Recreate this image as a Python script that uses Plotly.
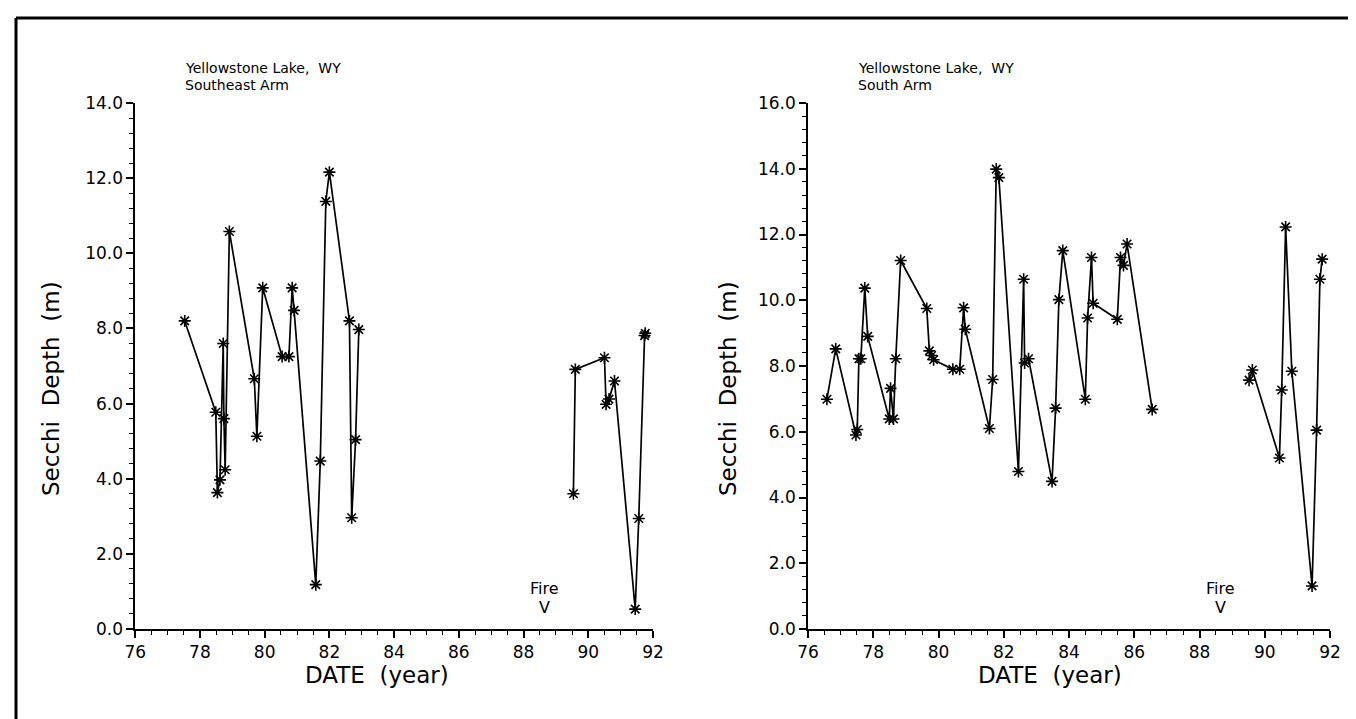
import plotly.graph_objects as go

W, H = 1356, 719

# ---- Data: Southeast Arm ----
se_year = [77.53, 78.49, 78.54, 78.62, 78.72, 78.74, 78.78, 78.91, 79.68, 79.76, 79.94,
           80.54, 80.75, 80.85, 80.91, 81.58, 81.72, 81.89, 82.00, 82.62, 82.69, 82.81, 82.91,
           None,
           89.54, 89.60, 90.50, 90.55, 90.64, 90.81, 91.45, 91.56, 91.74, 91.76]
se_depth = [8.20, 5.77, 3.63, 3.97, 7.60, 5.60, 4.24, 10.58, 6.66, 5.13, 9.08,
            7.25, 7.25, 9.08, 8.48, 1.18, 4.47, 11.38, 12.16, 8.20, 2.96, 5.04, 7.97,
            None,
            3.60, 6.91, 7.22, 5.98, 6.12, 6.60, 0.53, 2.94, 7.81, 7.87]

# ---- Data: South Arm ----
s_year = [76.58, 76.85, 77.47, 77.51, 77.56, 77.62, 77.74, 77.83, 78.49, 78.53, 78.62,
          78.69, 78.84, 79.64, 79.72, 79.79, 79.85, 80.44, 80.65, 80.77, 80.82, 81.56,
          81.66, 81.77, 81.85, 82.45, 82.61, 82.64, 82.76, 83.48, 83.59, 83.69, 83.81,
          84.50, 84.57, 84.69, 84.74, 85.48, 85.58, 85.67, 85.78, 86.55,
          None,
          89.52, 89.62, 90.45, 90.52, 90.64, 90.83, 91.45, 91.59, 91.69, 91.76]
s_depth = [6.99, 8.52, 5.90, 6.07, 8.22, 8.22, 10.37, 8.90, 6.39, 7.32, 6.39,
           8.22, 11.21, 9.75, 8.46, 8.32, 8.19, 7.90, 7.90, 9.77, 9.12, 6.10,
           7.59, 13.99, 13.73, 4.79, 10.64, 8.09, 8.22, 4.49, 6.72, 10.02, 11.51,
           6.99, 9.46, 11.30, 9.91, 9.42, 11.30, 11.06, 11.71, 6.68,
           None,
           7.57, 7.88, 5.20, 7.27, 12.23, 7.84, 1.31, 6.05, 10.64, 11.25]

x_ticks = [76, 78, 80, 82, 84, 86, 88, 90, 92]
y_ticks_se = [0, 2, 4, 6, 8, 10, 12, 14]
y_ticks_s = [0, 2, 4, 6, 8, 10, 12, 14, 16]
titles = [("Yellowstone\u00a0Lake,\u00a0\u00a0WY", "Southeast\u00a0Arm"),
          ("Yellowstone\u00a0Lake,\u00a0\u00a0WY", "South\u00a0Arm")]
fire_year = 88.65

FONT = "DejaVu Sans"


def px_x(p):
    return p / W


def px_y(p):
    return 1 - p / H


fig = go.Figure()

marker = dict(symbol="asterisk-open", size=10, color="black",
              line=dict(color="black", width=1.6))

fig.add_trace(go.Scatter(x=se_year, y=se_depth, mode="lines+markers",
                         line=dict(color="black", width=1.7), marker=marker,
                         connectgaps=False, xaxis="x", yaxis="y", showlegend=False))
fig.add_trace(go.Scatter(x=s_year, y=s_depth, mode="lines+markers",
                         line=dict(color="black", width=1.7), marker=marker,
                         connectgaps=False, xaxis="x2", yaxis="y2", showlegend=False))

y_bot, y_top = px_y(621), px_y(95)

common_x = dict(range=[76, 92], tickvals=x_ticks, ticks="outside", ticklen=7, tickwidth=1.5,
                tickcolor="black", showline=True, linecolor="black", linewidth=1.5,
                showgrid=False, zeroline=False, tickfont=dict(family=FONT, size=17, color="black"),
                minor=dict(dtick=0.5, tick0=76, ticks="outside", ticklen=4, tickwidth=1.2,
                           tickcolor="black", showgrid=False),
                fixedrange=True)
common_y = dict(ticks="outside", ticklen=7, tickwidth=1.5, tickcolor="black",
                showline=True, linecolor="black", linewidth=1.5, showgrid=False,
                zeroline=False, tickformat=".1f",
                tickfont=dict(family=FONT, size=17, color="black"),
                minor=dict(dtick=0.4, tick0=0, ticks="outside", ticklen=4, tickwidth=1.2,
                           tickcolor="black", showgrid=False),
                fixedrange=True)

fig.update_layout(
    width=W, height=H,
    margin=dict(l=0, r=0, t=0, b=0, autoexpand=False),
    paper_bgcolor="white", plot_bgcolor="white",
    showlegend=False,
    xaxis=dict(domain=[px_x(127.2), px_x(645)], anchor="y", **common_x),
    yaxis=dict(domain=[y_bot, y_top], anchor="x", range=[0, 14], tickvals=y_ticks_se, **common_y),
    xaxis2=dict(domain=[px_x(800), px_x(1322)], anchor="y2", **common_x),
    yaxis2=dict(domain=[y_bot, y_top], anchor="x2", range=[0, 16], tickvals=y_ticks_s, **common_y),
)

annotations = []
# panel titles
for (l1, l2), xp in zip(titles, [175, 848]):
    annotations.append(dict(text=l1, x=px_x(xp), y=px_y(60), xref="paper", yref="paper",
                            xanchor="left", yanchor="middle", showarrow=False,
                            font=dict(family=FONT, size=14, color="black")))
    annotations.append(dict(text=l2, x=px_x(xp), y=px_y(77.5), xref="paper", yref="paper",
                            xanchor="left", yanchor="middle", showarrow=False,
                            font=dict(family=FONT, size=14, color="black")))
# axis titles
for xc in [369, 1042]:
    annotations.append(dict(text="DATE\u00a0\u00a0(year)", x=px_x(xc), y=px_y(667),
                            xref="paper", yref="paper", xanchor="center", yanchor="middle",
                            showarrow=False, font=dict(family=FONT, size=23, color="black")))
for xc in [43, 720]:
    annotations.append(dict(text="Secchi\u00a0\u00a0Depth\u00a0\u00a0(m)", x=px_x(xc), y=px_y(381),
                            xref="paper", yref="paper", xanchor="center", yanchor="middle",
                            textangle=-90, showarrow=False,
                            font=dict(family=FONT, size=23, color="black")))
# Fire markers
for xr in ["x", "x2"]:
    annotations.append(dict(text="Fire", x=fire_year, y=px_y(580), xref=xr, yref="paper",
                            xanchor="center", yanchor="middle", showarrow=False,
                            font=dict(family=FONT, size=16, color="black")))
    annotations.append(dict(text="V", x=fire_year, y=px_y(599), xref=xr, yref="paper",
                            xanchor="center", yanchor="middle", showarrow=False,
                            font=dict(family=FONT, size=16, color="black")))
fig.update_layout(annotations=annotations)

# outer frame (left, top, right edges)
frame = dict(type="line", xref="paper", yref="paper", line=dict(color="black", width=3))
fig.update_layout(shapes=[
    dict(frame, x0=px_x(8), x1=px_x(8), y0=-0.05, y1=px_y(10)),
    dict(frame, x0=px_x(8), x1=px_x(1354), y0=px_y(10), y1=px_y(10)),
    dict(frame, x0=px_x(1354), x1=px_x(1354), y0=-0.05, y1=px_y(10)),
])

fig.write_html("out.html")
